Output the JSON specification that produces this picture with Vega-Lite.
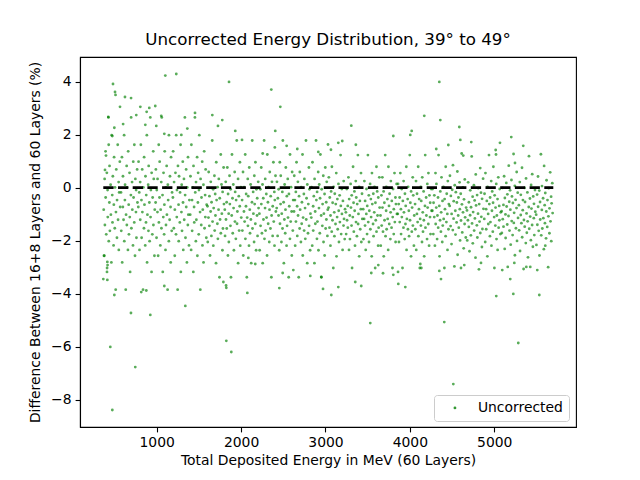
{
  "$schema": "https://vega.github.io/schema/vega-lite/v6.json",
  "width": 496,
  "height": 370,
  "autosize": {"type": "none"},
  "padding": {"left": 80, "top": 57, "right": 64, "bottom": 53},
  "title": {"text": "Uncorrected Energy Distribution, 39° to 49°", "fontSize": 16.7, "fontWeight": "normal", "color": "black", "offset": 8},
  "config": {
    "font": "DejaVu Sans",
    "view": {"stroke": "black", "strokeWidth": 1.1},
    "axis": {"grid": false, "domainColor": "black", "domainWidth": 1.1, "tickColor": "black", "tickWidth": 1.1, "tickSize": 4.9, "labelFontSize": 13.9, "labelColor": "black", "labelPadding": 4, "titleFontSize": 13.9, "titleFontWeight": "normal", "titleColor": "black"}
  },
  "datasets": {
    "pts": [
{"e":372,"d":-0.83},{"e":375,"d":-2.57},{"e":383,"d":0.33},{"e":386,"d":-1.41},{"e":394,"d":1.37},{"e":395,"d":-0.37},{"e":402,"d":-1.76},{"e":409,"d":0.56},{"e":411,"d":-3.18},{"e":418,"d":-0.09},{"e":420,"d":-1.11},{"e":428,"d":2.65},{"e":432,"d":-2.02},{"e":439,"d":-0.56},{"e":441,"d":0.82},{"e":445,"d":-1.63},{"e":454,"d":0.11},{"e":457,"d":-1.02},{"e":463,"d":-2.82},{"e":466,"d":1.98},{"e":473,"d":-0.28},{"e":476,"d":-1.31},{"e":480,"d":0.43},{"e":489,"d":-2.18},{"e":492,"d":-0.64},{"e":495,"d":1.15},{"e":503,"d":-1.53},{"e":506,"d":0.01},{"e":514,"d":-3.85},{"e":517,"d":-0.92},{"e":521,"d":0.69},{"e":529,"d":-1.89},{"e":530,"d":-0.47},{"e":538,"d":1.62},{"e":542,"d":-1.21},{"e":549,"d":0.21},{"e":551,"d":-2.35},{"e":555,"d":-0.18},{"e":563,"d":0.98},{"e":567,"d":-0.73},
{"e":577,"d":-0.18},{"e":580,"d":-1.63},{"e":588,"d":1.15},{"e":591,"d":-2.82},{"e":599,"d":-0.73},{"e":600,"d":0.43},{"e":607,"d":-1.21},{"e":614,"d":1.98},{"e":616,"d":-2.02},{"e":623,"d":-0.47},{"e":625,"d":0.11},{"e":633,"d":-3.85},{"e":637,"d":-1.02},{"e":644,"d":0.82},{"e":646,"d":-1.41},{"e":650,"d":0.01},{"e":659,"d":-2.35},{"e":662,"d":1.37},{"e":668,"d":-0.64},{"e":671,"d":-1.76},{"e":678,"d":0.56},{"e":681,"d":-1.11},{"e":685,"d":-3.18},{"e":694,"d":-0.28},{"e":697,"d":2.65},{"e":700,"d":-1.53},{"e":708,"d":0.21},{"e":711,"d":-0.83},{"e":719,"d":-2.18},{"e":722,"d":0.98},{"e":726,"d":-0.37},{"e":734,"d":-1.31},{"e":735,"d":1.62},{"e":743,"d":-2.57},{"e":747,"d":0.33},{"e":754,"d":-0.92},{"e":756,"d":-0.09},{"e":760,"d":-1.89},{"e":768,"d":0.69},{"e":772,"d":-0.56},
{"e":782,"d":-0.73},{"e":785,"d":0.98},{"e":793,"d":-0.18},{"e":796,"d":-2.35},{"e":804,"d":0.21},{"e":805,"d":-1.21},{"e":812,"d":1.62},{"e":819,"d":-0.47},{"e":821,"d":-1.89},{"e":828,"d":0.69},{"e":830,"d":-0.92},{"e":838,"d":-3.85},{"e":842,"d":0.01},{"e":849,"d":-1.53},{"e":851,"d":1.15},{"e":855,"d":-0.64},{"e":864,"d":-2.18},{"e":867,"d":0.43},{"e":873,"d":-1.31},{"e":876,"d":-0.28},{"e":883,"d":1.98},{"e":886,"d":-2.82},{"e":890,"d":-1.02},{"e":899,"d":0.11},{"e":902,"d":-1.63},{"e":905,"d":0.82},{"e":913,"d":-0.56},{"e":916,"d":-2.02},{"e":924,"d":2.65},{"e":927,"d":-1.11},{"e":931,"d":-0.09},{"e":939,"d":-3.18},{"e":940,"d":0.56},{"e":948,"d":-1.76},{"e":952,"d":-0.37},{"e":959,"d":1.37},{"e":961,"d":-1.41},{"e":965,"d":0.33},{"e":973,"d":-2.57},{"e":977,"d":-0.83},
{"e":987,"d":-0.56},{"e":990,"d":0.69},{"e":998,"d":-1.89},{"e":1001,"d":-0.09},{"e":1009,"d":-0.92},{"e":1010,"d":0.33},{"e":1017,"d":-2.57},{"e":1024,"d":1.62},{"e":1026,"d":-1.31},{"e":1033,"d":-0.37},{"e":1035,"d":0.98},{"e":1043,"d":-2.18},{"e":1047,"d":-0.83},{"e":1054,"d":0.21},{"e":1056,"d":-1.53},{"e":1060,"d":2.65},{"e":1069,"d":-0.28},{"e":1072,"d":-3.18},{"e":1078,"d":-1.11},{"e":1081,"d":0.56},{"e":1088,"d":-1.76},{"e":1091,"d":-0.64},{"e":1095,"d":1.37},{"e":1104,"d":-2.35},{"e":1107,"d":0.01},{"e":1110,"d":-1.41},{"e":1118,"d":0.82},{"e":1121,"d":-1.02},{"e":1129,"d":-3.85},{"e":1132,"d":0.11},{"e":1136,"d":-0.47},{"e":1144,"d":-2.02},{"e":1145,"d":1.98},{"e":1153,"d":-1.21},{"e":1157,"d":0.43},{"e":1164,"d":-0.73},{"e":1166,"d":-2.82},{"e":1170,"d":1.15},{"e":1178,"d":-1.63},{"e":1182,"d":-0.18},
{"e":1192,"d":-0.37},{"e":1195,"d":1.37},{"e":1203,"d":-1.53},{"e":1206,"d":0.21},{"e":1214,"d":-2.57},{"e":1215,"d":-0.83},{"e":1222,"d":0.56},{"e":1229,"d":-1.76},{"e":1231,"d":1.98},{"e":1238,"d":-1.11},{"e":1240,"d":-0.09},{"e":1248,"d":-3.85},{"e":1252,"d":0.82},{"e":1259,"d":-0.64},{"e":1261,"d":-2.02},{"e":1265,"d":0.43},{"e":1274,"d":-1.31},{"e":1277,"d":-0.18},{"e":1283,"d":1.62},{"e":1286,"d":-3.18},{"e":1293,"d":-0.92},{"e":1296,"d":0.11},{"e":1300,"d":-1.63},{"e":1309,"d":0.98},{"e":1312,"d":-0.56},{"e":1315,"d":-2.35},{"e":1323,"d":0.33},{"e":1326,"d":-1.21},{"e":1334,"d":2.65},{"e":1337,"d":-0.28},{"e":1341,"d":-1.89},{"e":1349,"d":0.69},{"e":1350,"d":-0.73},{"e":1358,"d":-2.82},{"e":1362,"d":0.01},{"e":1369,"d":-1.41},{"e":1371,"d":1.15},{"e":1375,"d":-1.02},{"e":1383,"d":-2.18},{"e":1387,"d":-0.47},
{"e":1397,"d":-1.02},{"e":1400,"d":0.43},{"e":1408,"d":-2.35},{"e":1411,"d":1.62},{"e":1419,"d":-0.47},{"e":1420,"d":-1.63},{"e":1427,"d":0.01},{"e":1434,"d":-3.18},{"e":1436,"d":0.82},{"e":1443,"d":-0.73},{"e":1445,"d":-1.31},{"e":1453,"d":2.65},{"e":1457,"d":-0.18},{"e":1464,"d":-2.02},{"e":1466,"d":0.21},{"e":1470,"d":-1.21},{"e":1479,"d":1.15},{"e":1482,"d":-2.57},{"e":1488,"d":-0.56},{"e":1491,"d":0.56},{"e":1498,"d":-1.76},{"e":1501,"d":-0.09},{"e":1505,"d":1.98},{"e":1514,"d":-0.92},{"e":1517,"d":-3.85},{"e":1520,"d":0.33},{"e":1528,"d":-1.41},{"e":1531,"d":-0.37},{"e":1539,"d":0.98},{"e":1542,"d":-2.18},{"e":1546,"d":-0.83},{"e":1554,"d":0.11},{"e":1555,"d":-2.82},{"e":1563,"d":1.37},{"e":1567,"d":-1.53},{"e":1574,"d":-0.28},{"e":1576,"d":-1.11},{"e":1580,"d":0.69},{"e":1588,"d":-1.89},{"e":1592,"d":-0.64},
{"e":1602,"d":-0.70},{"e":1605,"d":-2.05},{"e":1613,"d":-1.13},{"e":1616,"d":0.59},{"e":1624,"d":-1.44},{"e":1625,"d":-0.32},{"e":1632,"d":-2.56},{"e":1639,"d":-0.90},{"e":1641,"d":0.22},{"e":1648,"d":-1.82},{"e":1650,"d":-0.55},{"e":1658,"d":1.78},{"e":1662,"d":-1.28},{"e":1669,"d":-0.06},{"e":1671,"d":-2.19},{"e":1675,"d":-0.77},{"e":1684,"d":0.45},{"e":1687,"d":-1.62},{"e":1693,"d":-0.24},{"e":1696,"d":-1.05},{"e":1703,"d":-2.85},{"e":1706,"d":0.96},{"e":1710,"d":-0.47},{"e":1719,"d":-1.36},{"e":1722,"d":0.02},{"e":1725,"d":-1.93},{"e":1733,"d":-0.83},{"e":1736,"d":0.33},{"e":1744,"d":-3.38},{"e":1747,"d":-0.40},{"e":1751,"d":-1.20},{"e":1759,"d":1.25},{"e":1760,"d":-1.72},{"e":1768,"d":0.12},{"e":1772,"d":-0.98},{"e":1779,"d":-2.36},{"e":1781,"d":-0.16},{"e":1785,"d":-1.54},{"e":1793,"d":0.76},{"e":1797,"d":-0.62},
{"e":1807,"d":-0.83},{"e":1810,"d":-1.82},{"e":1818,"d":0.22},{"e":1821,"d":-1.20},{"e":1829,"d":-0.55},{"e":1830,"d":-1.54},{"e":1837,"d":0.76},{"e":1844,"d":-2.56},{"e":1846,"d":-0.24},{"e":1853,"d":-0.98},{"e":1855,"d":-2.05},{"e":1863,"d":0.45},{"e":1867,"d":-0.62},{"e":1874,"d":-1.44},{"e":1876,"d":-0.06},{"e":1880,"d":-3.38},{"e":1889,"d":-1.05},{"e":1892,"d":1.25},{"e":1898,"d":-0.40},{"e":1901,"d":-1.72},{"e":1908,"d":0.12},{"e":1911,"d":-0.77},{"e":1915,"d":-2.36},{"e":1924,"d":0.59},{"e":1927,"d":-1.28},{"e":1930,"d":-0.16},{"e":1938,"d":-1.93},{"e":1941,"d":-0.47},{"e":1949,"d":1.78},{"e":1952,"d":-1.36},{"e":1956,"d":-0.90},{"e":1964,"d":0.33},{"e":1965,"d":-2.85},{"e":1973,"d":-0.32},{"e":1977,"d":-1.62},{"e":1984,"d":-0.70},{"e":1986,"d":0.96},{"e":1990,"d":-2.19},{"e":1998,"d":0.02},{"e":2002,"d":-1.13},
{"e":2012,"d":-0.47},{"e":2015,"d":-1.62},{"e":2023,"d":0.59},{"e":2026,"d":-2.56},{"e":2034,"d":-0.90},{"e":2035,"d":0.02},{"e":2042,"d":-1.28},{"e":2049,"d":1.25},{"e":2051,"d":-1.93},{"e":2058,"d":-0.70},{"e":2060,"d":-0.24},{"e":2068,"d":-3.38},{"e":2072,"d":-1.13},{"e":2079,"d":0.33},{"e":2081,"d":-1.44},{"e":2085,"d":-0.32},{"e":2094,"d":-2.19},{"e":2097,"d":0.76},{"e":2103,"d":-0.83},{"e":2106,"d":-1.72},{"e":2113,"d":0.12},{"e":2116,"d":-1.20},{"e":2120,"d":-2.85},{"e":2129,"d":-0.55},{"e":2132,"d":1.78},{"e":2135,"d":-1.54},{"e":2143,"d":-0.16},{"e":2146,"d":-0.98},{"e":2154,"d":-2.05},{"e":2157,"d":0.45},{"e":2161,"d":-0.62},{"e":2169,"d":-1.36},{"e":2170,"d":0.96},{"e":2178,"d":-2.36},{"e":2182,"d":-0.06},{"e":2189,"d":-1.05},{"e":2191,"d":-0.40},{"e":2195,"d":-1.82},{"e":2203,"d":0.22},{"e":2207,"d":-0.77},
{"e":2217,"d":-0.98},{"e":2220,"d":-2.36},{"e":2228,"d":-0.06},{"e":2231,"d":-1.44},{"e":2239,"d":0.76},{"e":2240,"d":-0.62},{"e":2247,"d":-1.72},{"e":2254,"d":0.12},{"e":2256,"d":-2.85},{"e":2263,"d":-0.40},{"e":2265,"d":-1.20},{"e":2273,"d":1.78},{"e":2277,"d":-1.93},{"e":2284,"d":-0.77},{"e":2286,"d":0.33},{"e":2290,"d":-1.62},{"e":2299,"d":-0.24},{"e":2302,"d":-1.13},{"e":2308,"d":-2.56},{"e":2311,"d":1.25},{"e":2318,"d":-0.55},{"e":2321,"d":-1.36},{"e":2325,"d":0.02},{"e":2334,"d":-2.05},{"e":2337,"d":-0.83},{"e":2340,"d":0.59},{"e":2348,"d":-1.54},{"e":2351,"d":-0.32},{"e":2359,"d":-3.38},{"e":2362,"d":-1.05},{"e":2366,"d":0.22},{"e":2374,"d":-1.82},{"e":2375,"d":-0.70},{"e":2383,"d":0.96},{"e":2387,"d":-1.28},{"e":2394,"d":-0.16},{"e":2396,"d":-2.19},{"e":2400,"d":-0.47},{"e":2408,"d":0.45},{"e":2412,"d":-0.90},
{"e":2422,"d":-0.77},{"e":2425,"d":0.22},{"e":2433,"d":-1.82},{"e":2436,"d":-0.40},{"e":2444,"d":-1.05},{"e":2445,"d":-0.06},{"e":2452,"d":-2.36},{"e":2459,"d":0.96},{"e":2461,"d":-1.36},{"e":2468,"d":-0.62},{"e":2470,"d":0.45},{"e":2478,"d":-2.05},{"e":2482,"d":-0.98},{"e":2489,"d":-0.16},{"e":2491,"d":-1.54},{"e":2495,"d":1.78},{"e":2504,"d":-0.55},{"e":2507,"d":-2.85},{"e":2513,"d":-1.20},{"e":2516,"d":0.12},{"e":2523,"d":-1.72},{"e":2526,"d":-0.83},{"e":2530,"d":0.76},{"e":2539,"d":-2.19},{"e":2542,"d":-0.32},{"e":2545,"d":-1.44},{"e":2553,"d":0.33},{"e":2556,"d":-1.13},{"e":2564,"d":-3.38},{"e":2567,"d":-0.24},{"e":2571,"d":-0.70},{"e":2579,"d":-1.93},{"e":2580,"d":1.25},{"e":2588,"d":-1.28},{"e":2592,"d":0.02},{"e":2599,"d":-0.90},{"e":2601,"d":-2.56},{"e":2605,"d":0.59},{"e":2613,"d":-1.62},{"e":2617,"d":-0.47},
{"e":2627,"d":-0.90},{"e":2630,"d":0.45},{"e":2638,"d":-0.47},{"e":2641,"d":-2.19},{"e":2649,"d":-0.16},{"e":2650,"d":-1.28},{"e":2657,"d":0.96},{"e":2664,"d":-0.70},{"e":2666,"d":-1.82},{"e":2673,"d":0.22},{"e":2675,"d":-1.05},{"e":2683,"d":-3.38},{"e":2687,"d":-0.32},{"e":2694,"d":-1.54},{"e":2696,"d":0.59},{"e":2700,"d":-0.83},{"e":2709,"d":-2.05},{"e":2712,"d":0.02},{"e":2718,"d":-1.36},{"e":2721,"d":-0.55},{"e":2728,"d":1.25},{"e":2731,"d":-2.56},{"e":2735,"d":-1.13},{"e":2744,"d":-0.24},{"e":2747,"d":-1.62},{"e":2750,"d":0.33},{"e":2758,"d":-0.77},{"e":2761,"d":-1.93},{"e":2769,"d":1.78},{"e":2772,"d":-1.20},{"e":2776,"d":-0.40},{"e":2784,"d":-2.85},{"e":2785,"d":0.12},{"e":2793,"d":-1.72},{"e":2797,"d":-0.62},{"e":2804,"d":0.76},{"e":2806,"d":-1.44},{"e":2810,"d":-0.06},{"e":2818,"d":-2.36},{"e":2822,"d":-0.98},
{"e":2832,"d":-1.13},{"e":2835,"d":0.02},{"e":2843,"d":-2.19},{"e":2846,"d":0.96},{"e":2854,"d":-0.70},{"e":2855,"d":-1.62},{"e":2862,"d":-0.32},{"e":2869,"d":-2.85},{"e":2871,"d":0.33},{"e":2878,"d":-0.90},{"e":2880,"d":-1.36},{"e":2888,"d":1.78},{"e":2892,"d":-0.47},{"e":2899,"d":-1.93},{"e":2901,"d":-0.16},{"e":2905,"d":-1.28},{"e":2914,"d":0.59},{"e":2917,"d":-2.36},{"e":2923,"d":-0.77},{"e":2926,"d":0.12},{"e":2933,"d":-1.72},{"e":2936,"d":-0.40},{"e":2940,"d":1.25},{"e":2949,"d":-1.05},{"e":2952,"d":-3.38},{"e":2955,"d":-0.06},{"e":2963,"d":-1.44},{"e":2966,"d":-0.62},{"e":2974,"d":0.45},{"e":2977,"d":-2.05},{"e":2981,"d":-0.98},{"e":2989,"d":-0.24},{"e":2990,"d":-2.56},{"e":2998,"d":0.76},{"e":3002,"d":-1.54},{"e":3009,"d":-0.55},{"e":3011,"d":-1.20},{"e":3015,"d":0.22},{"e":3023,"d":-1.82},{"e":3027,"d":-0.83},
{"e":3037,"d":-0.75},{"e":3040,"d":0.39},{"e":3048,"d":-1.51},{"e":3051,"d":-0.37},{"e":3059,"d":-2.19},{"e":3060,"d":-1.05},{"e":3067,"d":-0.14},{"e":3074,"d":-1.66},{"e":3076,"d":0.79},{"e":3083,"d":-1.23},{"e":3085,"d":-0.57},{"e":3093,"d":-3.03},{"e":3097,"d":0.03},{"e":3104,"d":-0.93},{"e":3106,"d":-1.83},{"e":3110,"d":-0.23},{"e":3119,"d":-1.37},{"e":3122,"d":-0.62},{"e":3128,"d":0.55},{"e":3131,"d":-2.59},{"e":3138,"d":-1.11},{"e":3141,"d":-0.43},{"e":3145,"d":-1.57},{"e":3154,"d":0.14},{"e":3157,"d":-0.87},{"e":3160,"d":-2.05},{"e":3168,"d":-0.29},{"e":3171,"d":-1.30},{"e":3179,"d":1.23},{"e":3182,"d":-0.69},{"e":3186,"d":-1.75},{"e":3194,"d":-0.05},{"e":3195,"d":-0.99},{"e":3203,"d":-2.35},{"e":3207,"d":-0.50},{"e":3214,"d":-1.43},{"e":3216,"d":0.25},{"e":3220,"d":-1.18},{"e":3228,"d":-1.94},{"e":3232,"d":-0.81},
{"e":3242,"d":-0.93},{"e":3245,"d":-1.75},{"e":3253,"d":-0.05},{"e":3256,"d":-1.23},{"e":3264,"d":-0.69},{"e":3265,"d":-1.51},{"e":3272,"d":0.39},{"e":3279,"d":-2.35},{"e":3281,"d":-0.43},{"e":3288,"d":-1.05},{"e":3290,"d":-1.94},{"e":3298,"d":0.14},{"e":3302,"d":-0.75},{"e":3309,"d":-1.43},{"e":3311,"d":-0.29},{"e":3315,"d":-3.03},{"e":3324,"d":-1.11},{"e":3327,"d":0.79},{"e":3333,"d":-0.57},{"e":3336,"d":-1.66},{"e":3343,"d":-0.14},{"e":3346,"d":-0.87},{"e":3350,"d":-2.19},{"e":3359,"d":0.25},{"e":3362,"d":-1.30},{"e":3365,"d":-0.37},{"e":3373,"d":-1.83},{"e":3376,"d":-0.62},{"e":3384,"d":1.23},{"e":3387,"d":-1.37},{"e":3391,"d":-0.99},{"e":3399,"d":0.03},{"e":3400,"d":-2.59},{"e":3408,"d":-0.50},{"e":3412,"d":-1.57},{"e":3419,"d":-0.81},{"e":3421,"d":0.55},{"e":3425,"d":-2.05},{"e":3433,"d":-0.23},{"e":3437,"d":-1.18},
{"e":3447,"d":-0.81},{"e":3450,"d":-1.94},{"e":3458,"d":-1.18},{"e":3461,"d":0.25},{"e":3469,"d":-1.43},{"e":3470,"d":-0.50},{"e":3477,"d":-2.35},{"e":3484,"d":-0.99},{"e":3486,"d":-0.05},{"e":3493,"d":-1.75},{"e":3495,"d":-0.69},{"e":3503,"d":1.23},{"e":3507,"d":-1.30},{"e":3514,"d":-0.29},{"e":3516,"d":-2.05},{"e":3520,"d":-0.87},{"e":3529,"d":0.14},{"e":3532,"d":-1.57},{"e":3538,"d":-0.43},{"e":3541,"d":-1.11},{"e":3548,"d":-2.59},{"e":3551,"d":0.55},{"e":3555,"d":-0.62},{"e":3564,"d":-1.37},{"e":3567,"d":-0.23},{"e":3570,"d":-1.83},{"e":3578,"d":-0.93},{"e":3581,"d":0.03},{"e":3589,"d":-3.03},{"e":3592,"d":-0.57},{"e":3596,"d":-1.23},{"e":3604,"d":0.79},{"e":3605,"d":-1.66},{"e":3613,"d":-0.14},{"e":3617,"d":-1.05},{"e":3624,"d":-2.19},{"e":3626,"d":-0.37},{"e":3630,"d":-1.51},{"e":3638,"d":0.39},{"e":3642,"d":-0.75},
{"e":3652,"d":-1.05},{"e":3655,"d":-2.19},{"e":3663,"d":-0.29},{"e":3666,"d":-1.43},{"e":3674,"d":0.39},{"e":3675,"d":-0.75},{"e":3682,"d":-1.66},{"e":3689,"d":-0.14},{"e":3691,"d":-2.59},{"e":3698,"d":-0.57},{"e":3700,"d":-1.23},{"e":3708,"d":1.23},{"e":3712,"d":-1.83},{"e":3719,"d":-0.87},{"e":3721,"d":0.03},{"e":3725,"d":-1.57},{"e":3734,"d":-0.43},{"e":3737,"d":-1.18},{"e":3743,"d":-2.35},{"e":3746,"d":0.79},{"e":3753,"d":-0.69},{"e":3756,"d":-1.37},{"e":3760,"d":-0.23},{"e":3769,"d":-1.94},{"e":3772,"d":-0.93},{"e":3775,"d":0.25},{"e":3783,"d":-1.51},{"e":3786,"d":-0.50},{"e":3794,"d":-3.03},{"e":3797,"d":-1.11},{"e":3801,"d":-0.05},{"e":3809,"d":-1.75},{"e":3810,"d":-0.81},{"e":3818,"d":0.55},{"e":3822,"d":-1.30},{"e":3829,"d":-0.37},{"e":3831,"d":-2.05},{"e":3835,"d":-0.62},{"e":3843,"d":0.14},{"e":3847,"d":-0.99},
{"e":3857,"d":-0.99},{"e":3860,"d":0.14},{"e":3868,"d":-0.62},{"e":3871,"d":-2.05},{"e":3879,"d":-0.37},{"e":3880,"d":-1.30},{"e":3887,"d":0.55},{"e":3894,"d":-0.81},{"e":3896,"d":-1.75},{"e":3903,"d":-0.05},{"e":3905,"d":-1.11},{"e":3913,"d":-3.03},{"e":3917,"d":-0.50},{"e":3924,"d":-1.51},{"e":3926,"d":0.25},{"e":3930,"d":-0.93},{"e":3939,"d":-1.94},{"e":3942,"d":-0.23},{"e":3948,"d":-1.37},{"e":3951,"d":-0.69},{"e":3958,"d":0.79},{"e":3961,"d":-2.35},{"e":3965,"d":-1.18},{"e":3974,"d":-0.43},{"e":3977,"d":-1.57},{"e":3980,"d":0.03},{"e":3988,"d":-0.87},{"e":3991,"d":-1.83},{"e":3999,"d":1.23},{"e":4002,"d":-1.23},{"e":4006,"d":-0.57},{"e":4014,"d":-2.59},{"e":4015,"d":-0.14},{"e":4023,"d":-1.66},{"e":4027,"d":-0.75},{"e":4034,"d":0.39},{"e":4036,"d":-1.43},{"e":4040,"d":-0.29},{"e":4048,"d":-2.19},{"e":4052,"d":-1.05},
{"e":4062,"d":-0.62},{"e":4065,"d":-1.57},{"e":4073,"d":0.25},{"e":4076,"d":-2.35},{"e":4084,"d":-0.99},{"e":4085,"d":-0.23},{"e":4092,"d":-1.30},{"e":4099,"d":0.79},{"e":4101,"d":-1.83},{"e":4108,"d":-0.81},{"e":4110,"d":-0.43},{"e":4118,"d":-3.03},{"e":4122,"d":-1.18},{"e":4129,"d":0.03},{"e":4131,"d":-1.43},{"e":4135,"d":-0.50},{"e":4144,"d":-2.05},{"e":4147,"d":0.39},{"e":4153,"d":-0.93},{"e":4156,"d":-1.66},{"e":4163,"d":-0.14},{"e":4166,"d":-1.23},{"e":4170,"d":-2.59},{"e":4179,"d":-0.69},{"e":4182,"d":1.23},{"e":4185,"d":-1.51},{"e":4193,"d":-0.37},{"e":4196,"d":-1.05},{"e":4204,"d":-1.94},{"e":4207,"d":0.14},{"e":4211,"d":-0.75},{"e":4219,"d":-1.37},{"e":4220,"d":0.55},{"e":4228,"d":-2.19},{"e":4232,"d":-0.29},{"e":4239,"d":-1.11},{"e":4241,"d":-0.57},{"e":4245,"d":-1.75},{"e":4253,"d":-0.05},{"e":4257,"d":-0.87},
{"e":4267,"d":-0.87},{"e":4270,"d":-0.05},{"e":4278,"d":-1.75},{"e":4281,"d":-0.57},{"e":4289,"d":-1.11},{"e":4290,"d":-0.29},{"e":4297,"d":-2.19},{"e":4304,"d":0.55},{"e":4306,"d":-1.37},{"e":4313,"d":-0.75},{"e":4315,"d":0.14},{"e":4323,"d":-1.94},{"e":4327,"d":-1.05},{"e":4334,"d":-0.37},{"e":4336,"d":-1.51},{"e":4340,"d":1.23},{"e":4349,"d":-0.69},{"e":4352,"d":-2.59},{"e":4358,"d":-1.23},{"e":4361,"d":-0.14},{"e":4368,"d":-1.66},{"e":4371,"d":-0.93},{"e":4375,"d":0.39},{"e":4384,"d":-2.05},{"e":4387,"d":-0.50},{"e":4390,"d":-1.43},{"e":4398,"d":0.03},{"e":4401,"d":-1.18},{"e":4409,"d":-3.03},{"e":4412,"d":-0.43},{"e":4416,"d":-0.81},{"e":4424,"d":-1.83},{"e":4425,"d":0.79},{"e":4433,"d":-1.30},{"e":4437,"d":-0.23},{"e":4444,"d":-0.99},{"e":4446,"d":-2.35},{"e":4450,"d":0.25},{"e":4458,"d":-1.57},{"e":4462,"d":-0.62},
{"e":4472,"d":-0.69},{"e":4475,"d":0.45},{"e":4483,"d":-1.45},{"e":4486,"d":-0.31},{"e":4494,"d":-2.13},{"e":4495,"d":-0.99},{"e":4502,"d":-0.08},{"e":4509,"d":-1.60},{"e":4511,"d":0.85},{"e":4518,"d":-1.17},{"e":4520,"d":-0.51},{"e":4528,"d":-2.97},{"e":4532,"d":0.09},{"e":4539,"d":-0.87},{"e":4541,"d":-1.77},{"e":4545,"d":-0.17},{"e":4554,"d":-1.31},{"e":4557,"d":-0.56},{"e":4563,"d":0.61},{"e":4566,"d":-2.53},{"e":4573,"d":-1.05},{"e":4576,"d":-0.37},{"e":4580,"d":-1.51},{"e":4589,"d":0.20},{"e":4592,"d":-0.81},{"e":4595,"d":-1.99},{"e":4603,"d":-0.23},{"e":4606,"d":-1.24},{"e":4614,"d":1.29},{"e":4617,"d":-0.63},{"e":4621,"d":-1.69},{"e":4629,"d":0.01},{"e":4630,"d":-0.93},{"e":4638,"d":-2.29},{"e":4642,"d":-0.44},{"e":4649,"d":-1.37},{"e":4651,"d":0.31},{"e":4655,"d":-1.12},{"e":4663,"d":-1.88},{"e":4667,"d":-0.75},
{"e":4677,"d":-0.86},{"e":4680,"d":-1.99},{"e":4688,"d":-1.23},{"e":4691,"d":0.20},{"e":4699,"d":-1.48},{"e":4700,"d":-0.55},{"e":4707,"d":-2.40},{"e":4714,"d":-1.04},{"e":4716,"d":-0.10},{"e":4723,"d":-1.80},{"e":4725,"d":-0.74},{"e":4733,"d":1.18},{"e":4737,"d":-1.35},{"e":4744,"d":-0.34},{"e":4746,"d":-2.10},{"e":4750,"d":-0.92},{"e":4759,"d":0.09},{"e":4762,"d":-1.62},{"e":4768,"d":-0.48},{"e":4771,"d":-1.16},{"e":4778,"d":-2.64},{"e":4781,"d":0.50},{"e":4785,"d":-0.67},{"e":4794,"d":-1.42},{"e":4797,"d":-0.28},{"e":4800,"d":-1.88},{"e":4808,"d":-0.98},{"e":4811,"d":-0.02},{"e":4819,"d":-3.08},{"e":4822,"d":-0.62},{"e":4826,"d":-1.28},{"e":4834,"d":0.74},{"e":4835,"d":-1.71},{"e":4843,"d":-0.19},{"e":4847,"d":-1.10},{"e":4854,"d":-2.24},{"e":4856,"d":-0.42},{"e":4860,"d":-1.56},{"e":4868,"d":0.34},{"e":4872,"d":-0.80},
{"e":4882,"d":-1.18},{"e":4885,"d":-0.23},{"e":4893,"d":-2.05},{"e":4896,"d":0.55},{"e":4904,"d":-0.81},{"e":4905,"d":-1.57},{"e":4912,"d":-0.50},{"e":4919,"d":-2.59},{"e":4921,"d":0.03},{"e":4928,"d":-0.99},{"e":4930,"d":-1.37},{"e":4938,"d":1.23},{"e":4942,"d":-0.62},{"e":4949,"d":-1.83},{"e":4951,"d":-0.37},{"e":4955,"d":-1.30},{"e":4964,"d":0.25},{"e":4967,"d":-2.19},{"e":4973,"d":-0.87},{"e":4976,"d":-0.14},{"e":4983,"d":-1.66},{"e":4986,"d":-0.57},{"e":4990,"d":0.79},{"e":4999,"d":-1.11},{"e":5002,"d":-3.03},{"e":5005,"d":-0.29},{"e":5013,"d":-1.43},{"e":5016,"d":-0.75},{"e":5024,"d":0.14},{"e":5027,"d":-1.94},{"e":5031,"d":-1.05},{"e":5039,"d":-0.43},{"e":5040,"d":-2.35},{"e":5048,"d":0.39},{"e":5052,"d":-1.51},{"e":5059,"d":-0.69},{"e":5061,"d":-1.23},{"e":5065,"d":-0.05},{"e":5073,"d":-1.75},{"e":5077,"d":-0.93},
{"e":5087,"d":-0.89},{"e":5090,"d":-1.71},{"e":5098,"d":-0.01},{"e":5101,"d":-1.19},{"e":5109,"d":-0.65},{"e":5110,"d":-1.47},{"e":5117,"d":0.43},{"e":5124,"d":-2.31},{"e":5126,"d":-0.39},{"e":5133,"d":-1.01},{"e":5135,"d":-1.90},{"e":5143,"d":0.18},{"e":5147,"d":-0.71},{"e":5154,"d":-1.39},{"e":5156,"d":-0.25},{"e":5160,"d":-2.99},{"e":5169,"d":-1.07},{"e":5172,"d":0.83},{"e":5178,"d":-0.53},{"e":5181,"d":-1.62},{"e":5188,"d":-0.10},{"e":5191,"d":-0.83},{"e":5195,"d":-2.15},{"e":5204,"d":0.29},{"e":5207,"d":-1.26},{"e":5210,"d":-0.33},{"e":5218,"d":-1.79},{"e":5221,"d":-0.58},{"e":5229,"d":1.27},{"e":5232,"d":-1.33},{"e":5236,"d":-0.95},{"e":5244,"d":0.07},{"e":5245,"d":-2.55},{"e":5253,"d":-0.46},{"e":5257,"d":-1.53},{"e":5264,"d":-0.77},{"e":5266,"d":0.59},{"e":5270,"d":-2.01},{"e":5278,"d":-0.19},{"e":5282,"d":-1.14},
{"e":5292,"d":-0.66},{"e":5295,"d":-1.61},{"e":5303,"d":0.21},{"e":5306,"d":-2.39},{"e":5314,"d":-1.03},{"e":5315,"d":-0.27},{"e":5322,"d":-1.34},{"e":5329,"d":0.75},{"e":5331,"d":-1.87},{"e":5338,"d":-0.85},{"e":5340,"d":-0.47},{"e":5348,"d":-3.07},{"e":5352,"d":-1.22},{"e":5359,"d":-0.01},{"e":5361,"d":-1.47},{"e":5365,"d":-0.54},{"e":5374,"d":-2.09},{"e":5377,"d":0.35},{"e":5383,"d":-0.97},{"e":5386,"d":-1.70},{"e":5393,"d":-0.18},{"e":5396,"d":-1.27},{"e":5400,"d":-2.63},{"e":5409,"d":-0.73},{"e":5412,"d":1.19},{"e":5415,"d":-1.55},{"e":5423,"d":-0.41},{"e":5426,"d":-1.09},{"e":5434,"d":-1.98},{"e":5437,"d":0.10},{"e":5441,"d":-0.79},{"e":5449,"d":-1.41},{"e":5450,"d":0.51},{"e":5458,"d":-2.23},{"e":5462,"d":-0.33},{"e":5469,"d":-1.15},{"e":5471,"d":-0.61},{"e":5475,"d":-1.79},{"e":5483,"d":-0.09},{"e":5487,"d":-0.91},
{"e":5497,"d":-1.02},{"e":5500,"d":-2.16},{"e":5508,"d":-0.26},{"e":5511,"d":-1.40},{"e":5519,"d":0.42},{"e":5520,"d":-0.72},{"e":5527,"d":-1.63},{"e":5534,"d":-0.11},{"e":5536,"d":-2.56},{"e":5543,"d":-0.54},{"e":5545,"d":-1.20},{"e":5553,"d":1.26},{"e":5557,"d":-1.80},{"e":5564,"d":-0.84},{"e":5566,"d":0.06},{"e":5570,"d":-1.54},{"e":5579,"d":-0.40},{"e":5582,"d":-1.15},{"e":5588,"d":-2.32},{"e":5591,"d":0.82},{"e":5598,"d":-0.66},{"e":5601,"d":-1.34},{"e":5605,"d":-0.20},{"e":5614,"d":-1.91},{"e":5617,"d":-0.90},{"e":5620,"d":0.28},{"e":5628,"d":-1.48},{"e":5631,"d":-0.47},{"e":5639,"d":-3.00},{"e":5642,"d":-1.08},{"e":5646,"d":-0.02},{"e":5654,"d":-1.72},{"e":5655,"d":-0.78},{"e":5663,"d":0.58},{"e":5667,"d":-1.27},{"e":5674,"d":-0.34},{"e":5676,"d":-2.02},{"e":5680,"d":-0.59},{"e":5688,"d":0.17},{"e":5692,"d":-0.96},
{"e":1102,"d":4.23},{"e":1232,"d":4.29},{"e":482,"d":3.91},{"e":1857,"d":3.99},{"e":506,"d":3.61},{"e":512,"d":3.50},{"e":624,"d":3.42},{"e":696,"d":3.38},{"e":565,"d":3.05},{"e":806,"d":3.05},{"e":912,"d":3.01},{"e":983,"d":3.08},{"e":1054,"d":2.71},{"e":426,"d":2.67},{"e":1454,"d":2.82},{"e":1659,"d":2.74},{"e":1777,"d":2.55},{"e":1726,"d":2.33},{"e":758,"d":2.74},{"e":881,"d":2.86},{"e":602,"d":2.40},{"e":498,"d":2.26},{"e":865,"d":2.37},{"e":995,"d":2.33},{"e":1363,"d":2.23},{"e":1292,"d":1.99},{"e":1090,"d":2.03},{"e":1931,"d":2.14},{"e":2011,"d":1.80},{"e":474,"d":1.95},{"e":431,"d":1.62},{"e":399,"d":1.21},{"e":387,"d":0.67},
{"e":379,"d":-2.57},{"e":415,"d":-2.80},{"e":418,"d":-2.92},{"e":412,"d":-3.03},{"e":367,"d":-3.45},{"e":415,"d":-3.48},{"e":498,"d":-4.05},{"e":695,"d":-4.73},{"e":924,"d":-4.80},{"e":450,"d":-6.01},{"e":746,"d":-6.77},{"e":474,"d":-8.39},{"e":1339,"d":-4.46},{"e":1825,"d":-5.78},{"e":1884,"d":-6.20},{"e":2074,"d":-3.97},{"e":817,"d":-3.94},{"e":877,"d":-3.88},{"e":1090,"d":-3.71},{"e":1825,"d":-3.78},{"e":1822,"d":-3.69},{"e":1790,"d":-3.56},
{"e":2358,"d":3.70},{"e":2465,"d":3.05},{"e":2405,"d":2.14},{"e":3306,"d":2.34},{"e":3804,"d":1.95},{"e":4022,"d":2.14},{"e":4005,"d":1.99},{"e":3199,"d":1.76},{"e":3152,"d":1.69},{"e":3360,"d":1.62},{"e":3030,"d":1.63},{"e":2540,"d":1.58},{"e":2400,"d":1.52},{"e":2256,"d":1.29},{"e":2666,"d":1.46},{"e":2915,"d":1.35},{"e":3065,"d":1.43},
{"e":2453,"d":-3.79},{"e":2971,"d":-3.82},{"e":3069,"d":-4.05},{"e":3152,"d":-3.75},{"e":3353,"d":-3.56},{"e":3424,"d":-3.71},{"e":3531,"d":-5.11},{"e":3863,"d":-3.63},{"e":3946,"d":-3.75},{"e":3543,"d":-3.22},{"e":3682,"d":-3.23},{"e":3626,"d":-2.92},{"e":3804,"d":-3.29},{"e":3860,"d":-3.18},{"e":2820,"d":-3.33},{"e":2950,"d":-3.37},{"e":2619,"d":-3.11},{"e":2493,"d":-3.22},{"e":2086,"d":-2.65},{"e":2168,"d":-2.88},
{"e":4349,"d":3.99},{"e":4171,"d":2.71},{"e":4361,"d":2.55},{"e":4586,"d":2.29},{"e":4598,"d":1.80},{"e":4728,"d":1.72},{"e":5202,"d":1.91},{"e":5068,"d":1.69},{"e":5344,"d":1.58},{"e":5017,"d":1.42},{"e":5021,"d":1.25},{"e":4456,"d":1.61},{"e":4313,"d":1.46},{"e":4633,"d":1.21},{"e":5246,"d":0.93},
{"e":4408,"d":-5.07},{"e":4515,"d":-7.41},{"e":5285,"d":-5.86},{"e":5024,"d":-4.09},{"e":5226,"d":-4.01},{"e":5534,"d":-4.05},{"e":5190,"d":-3.45},{"e":5095,"d":-3.11},{"e":5510,"d":-3.11},{"e":4369,"d":-3.45},{"e":4349,"d":-3.14},{"e":5605,"d":-2.19},{"e":4124,"d":-2.88},{"e":4136,"d":-3.03},{"e":4606,"d":-3.03},{"e":4645,"d":-2.92},{"e":4843,"d":-2.84},{"e":5238,"d":-2.84},{"e":5380,"d":-2.99},{"e":5427,"d":-2.99}
    ],
    "zero": [{"e": 367, "d": 0}, {"e": 5700, "d": 0}]
  },
  "layer": [
    {
      "data": {"name": "pts"},
      "mark": {"type": "circle", "size": 8, "opacity": 0.65},
      "encoding": {
        "x": {"field": "e", "type": "quantitative", "scale": {"domain": [91, 5969], "nice": false, "zero": false},
              "axis": {"values": [1000, 2000, 3000, 4000, 5000], "format": "d", "title": "Total Deposited Energy in MeV (60 Layers)", "titlePadding": 4}},
        "y": {"field": "d", "type": "quantitative", "scale": {"domain": [-9.03, 4.93], "nice": false, "zero": false},
              "axis": {"values": [-8, -6, -4, -2, 0, 2, 4], "title": "Difference Between 16+8 Layers and 60 Layers (%)", "titlePadding": 8}},
        "color": {"datum": "Uncorrected", "scale": {"range": ["#008000"]},
                  "legend": {"title": null, "orient": "none", "legendX": 354, "legendY": 338, "padding": 6, "strokeColor": "#cccccc", "fillColor": "white", "cornerRadius": 3, "symbolOffset": 8, "labelOffset": 16, "symbolSize": 8, "symbolOpacity": 0.8, "labelFontSize": 13.9, "labelColor": "black"}}
      }
    },
    {
      "data": {"name": "zero"},
      "mark": {"type": "line", "color": "black", "strokeWidth": 2.8, "strokeDash": [10.3, 4.4]},
      "encoding": {
        "x": {"field": "e", "type": "quantitative"},
        "y": {"field": "d", "type": "quantitative"}
      }
    }
  ]
}
